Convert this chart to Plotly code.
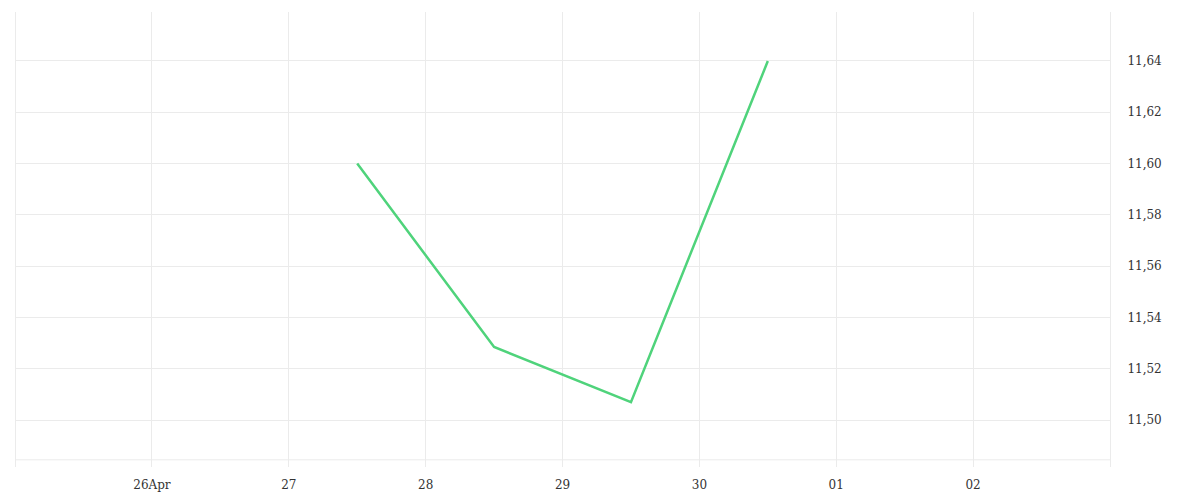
import plotly.graph_objects as go

dates = ["2024-04-27 12:00", "2024-04-28 12:00", "2024-04-29 12:00", "2024-04-30 12:00"]
values = [11.600, 11.5285, 11.507, 11.640]

tick_dates = ["2024-04-26", "2024-04-27", "2024-04-28", "2024-04-29",
              "2024-04-30", "2024-05-01", "2024-05-02"]
tick_labels = ["26Apr", "27", "28", "29", "30", "01", "02"]

y_ticks = [11.50, 11.52, 11.54, 11.56, 11.58, 11.60, 11.62, 11.64]
y_labels = ["{:.2f}".format(v).replace(".", ",") for v in y_ticks]

grid = "#ebebeb"

fig = go.Figure()
fig.add_trace(go.Scatter(x=dates, y=values, mode="lines",
                         line=dict(color="#4fd37b", width=2.5), hoverinfo="x+y"))

# horizontal base line just above the bottom of the plot area
fig.add_shape(type="line", xref="paper", x0=0, x1=1, yref="y", y0=11.4845, y1=11.4845,
              line=dict(color=grid, width=1), layer="below")

fig.update_layout(
    width=1200, height=500,
    margin=dict(l=8, r=98, t=4, b=41),
    paper_bgcolor="white", plot_bgcolor="white",
    showlegend=False,
    font=dict(family="DejaVu Serif", size=12, color="#333333"),
    xaxis=dict(range=["2024-04-25 00:10", "2024-05-03"],
               tickvals=tick_dates, ticktext=tick_labels,
               showgrid=True, gridcolor=grid, zeroline=False, showline=False,
               ticks="outside", ticklen=7, tickcolor="rgba(0,0,0,0)",
               tickfont=dict(size=12)),
    yaxis=dict(range=[11.4817, 11.6591], side="right",
               tickvals=y_ticks, ticktext=y_labels,
               showgrid=True, gridcolor=grid, zeroline=False,
               showline=True, mirror=True, linecolor=grid, linewidth=1,
               ticks="outside", ticklen=14, tickcolor="rgba(0,0,0,0)",
               tickfont=dict(size=12)),
)

fig.write_html("out.html")
